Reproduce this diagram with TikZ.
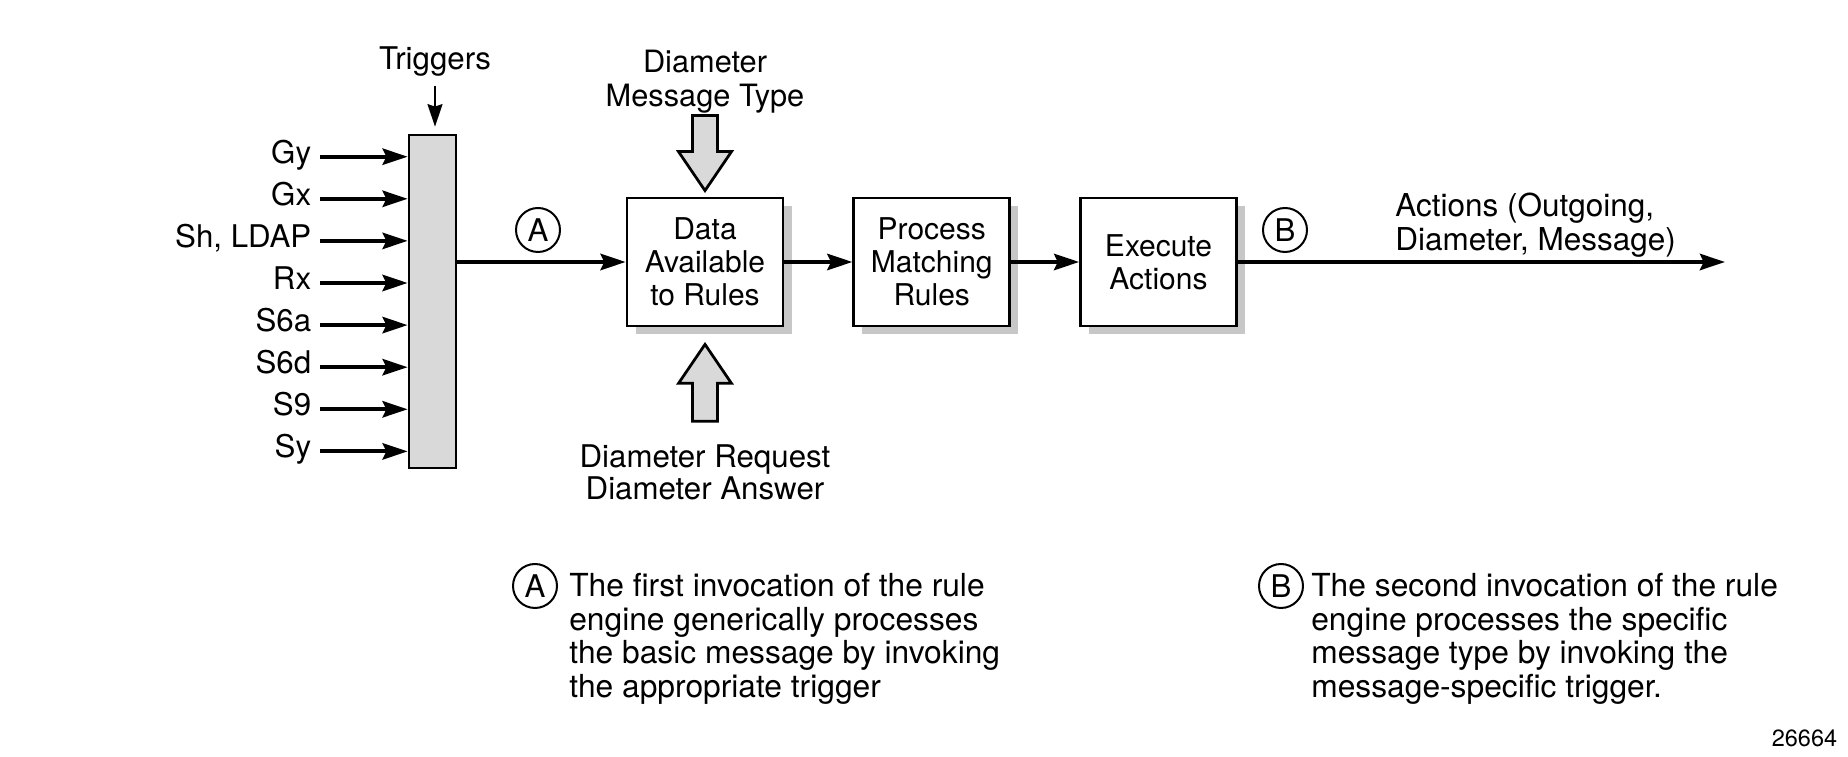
\documentclass[tikz,border=0pt]{standalone}
\usepackage{fontspec}
\setmainfont{TeX Gyre Heros}
\usepackage{tikz}
\usetikzlibrary{arrows.meta,positioning,shadows}

\begin{document}
\begin{tikzpicture}[x=0.4pt, y=-0.4pt,
    font=\fontsize{12.5}{13}\selectfont,
    box/.style={draw, line width=1.1pt, fill=white, minimum width=62.4pt, minimum height=51.2pt, align=center, inner sep=0pt,
      font=\fontsize{12}{13.2}\selectfont,
      drop shadow={shadow xshift=3.4pt, shadow yshift=-3.4pt, fill=black!22, opacity=1}},
    flow/.style={line width=1.6pt, -{Stealth[length=10pt, width=6.5pt, inset=1.5pt]}},
    tag/.style={circle, draw, line width=0.8pt, minimum size=17.6pt, inner sep=0pt},
    fatarrow/.style={draw, line width=1.1pt, fill=black!15, line join=miter},
    note/.style={align=left, anchor=north west, font=\fontsize{12.7}{13.4}\selectfont}
  ]
  \useasboundingbox (0,0) rectangle (1848,757);

  % Define nodes
  \node[draw, line width=1.1pt, fill=black!15, minimum width=18.8pt, minimum height=133.2pt, inner sep=0pt] (bar) at (432.5,301.5) {};
  \node (trig) at (435,62) {Triggers};
  \foreach \lbl [count=\i] in {Gy,Gx,{Sh, LDAP},Rx,S6a,S6d,S9,Sy}
    \node[anchor=mid east] (in\i) at (320,{156.7+42.1*(\i-1)}) {\lbl};

  \node[box] (data) at (705,262) {Data\\Available\\to Rules};
  \node[box, right=27.2pt of data] (proc) {Process\\Matching\\Rules};
  \node[box, right=27.2pt of proc] (exec) {Execute\\Actions};
  \coordinate (out) at (1725,262);

  \node[align=center, font=\fontsize{12.3}{13.6}\selectfont] (mtype) at (705,82) {Diameter\\Message Type};
  \node[align=center] (mreq) at (705,472.5) {Diameter Request\\Diameter Answer};

  \node[tag] (tagA) at (538,230) {A};
  \node[tag] (tagB) at (1285,230) {B};
  \node[anchor=west, align=left, font=\fontsize{12.6}{13.6}\selectfont] (acts) at (1386.5,225) {Actions (Outgoing,\\Diameter, Message)};

  % Notes
  \node[tag] (noteA) at (535,586) {A};
  \node[note] (textA) at (560.5,564.5) {The first invocation of the rule\\engine generically processes\\the basic message by invoking\\the appropriate trigger};
  \node[tag] (noteB) at (1281,586) {B};
  \node[note] (textB) at (1302.5,564.5) {The second invocation of the rule\\engine processes the specific\\message type by invoking the\\message-specific trigger.};
  \node[anchor=east, font=\fontsize{9.4}{10}\selectfont] (fig) at (1846,738) {26664};

  % Draw edges
  \foreach \i in {1,...,8}
    \draw[flow] (in\i.mid east) -- (in\i.mid east -| bar.west);
  \draw[line width=0.8pt, -{Stealth[length=9pt, width=6pt, inset=1pt]}, shorten >=2.8pt] (trig.south) -- (trig.south |- bar.north);
  \draw[flow] (bar.east |- data.west) -- (data.west);
  \draw[flow] (data) -- (proc);
  \draw[flow] (proc) -- (exec);
  \draw[flow] (exec) -- (out);

  % Block arrows
  \begin{scope}[shift={(data.north)}]
    \draw[fatarrow] (-12.5,-81) -- (-12.5,-45) -- (-26.5,-45) -- (0,-6) -- (26.5,-45) -- (12.5,-45) -- (12.5,-81) -- cycle;
  \end{scope}
  \begin{scope}[shift={(data.south)}]
    \draw[fatarrow] (-12.5,94) -- (-12.5,56) -- (-26.5,56) -- (0,17) -- (26.5,56) -- (12.5,56) -- (12.5,94) -- cycle;
  \end{scope}
\end{tikzpicture}
\end{document}
